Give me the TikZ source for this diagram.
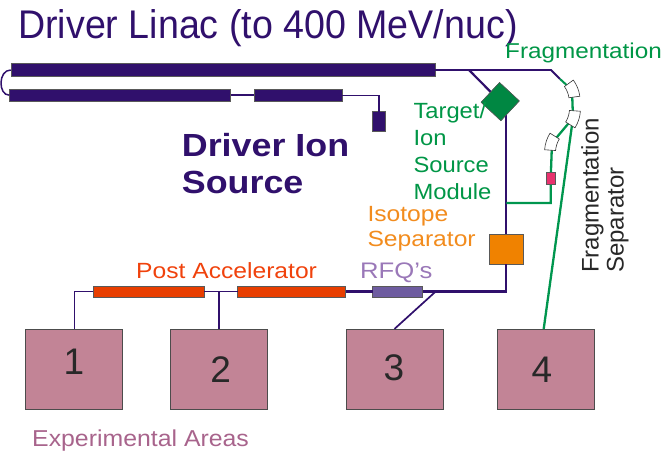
\documentclass[tikz,border=0pt]{standalone}
\usepackage{fontspec}
\setmainfont{Liberation Sans}
\usepackage{graphicx}
\usetikzlibrary{calc}

\definecolor{linacpurple}{RGB}{48,16,108}
\definecolor{fraggreen}{RGB}{0,150,78}
\definecolor{targetgreen}{RGB}{0,135,66}
\definecolor{textgreen}{RGB}{0,150,70}
\definecolor{isoorange}{RGB}{240,130,0}
\definecolor{isotext}{RGB}{242,140,30}
\definecolor{postred}{RGB}{232,62,0}
\definecolor{posttext}{RGB}{240,66,12}
\definecolor{rfqbar}{RGB}{110,92,160}
\definecolor{rfqtext}{RGB}{154,120,184}
\definecolor{areapink}{RGB}{194,132,150}
\definecolor{areatext}{RGB}{168,100,140}
\definecolor{fragmagenta}{RGB}{232,50,110}
\definecolor{digitgray}{RGB}{40,40,40}

\newcommand{\fsz}[1]{\fontsize{#1pt}{#1pt}\selectfont}

\begin{document}
\begin{tikzpicture}[x=1pt,y=-1pt,
  bar/.style={rectangle, draw=black!65, line width=0.5pt, inner sep=0pt, outer sep=0pt},
  beam/.style={draw=linacpurple, line width=2.2pt},
  thinbeam/.style={draw=linacpurple, line width=1.1pt},
  gbeam/.style={draw=fraggreen, line width=2.3pt},
  area/.style={rectangle, draw=black!70, fill=areapink, line width=0.8pt,
    minimum width=97pt, minimum height=80pt, inner sep=0pt, outer sep=0pt},
  lbl/.style={inner sep=0pt, anchor=base west},
  digit/.style={inner sep=0pt, text=digitgray, font=\fsz{37}},
  dipole/.pic={
    \draw[fill=white, draw=black!80, line width=0.6pt]
      (-30,0) ++(-14:25) -- ++(-14:11)
      arc[start angle=-14, end angle=14, radius=36]
      -- ++(194:11)
      arc[start angle=14, end angle=-14, radius=25] -- cycle;
  }]
\useasboundingbox (0,0) rectangle (672,452);

% ---------------- driver linac ----------------
\node[bar, fill=linacpurple, minimum width=424.3pt, minimum height=13.4pt] (linac1) at (222.9,70) {};
\node[bar, fill=linacpurple, minimum width=221.4pt, minimum height=12.3pt] (linac2) at (120,95.2) {};
\node[bar, fill=linacpurple, minimum width=88pt, minimum height=12.3pt] (linac3) at (298,95.2) {};
\node[bar, fill=linacpurple, minimum width=12.7pt, minimum height=19.3pt] (ionsrc) at (378.7,121.3) {};

% ---------------- target, isotope separator ----------------
\node[bar, fill=targetgreen, minimum size=27pt, rotate=47] (target) at (500.2,101.6) {};
\node[bar, fill=isoorange, minimum width=34.7pt, minimum height=30pt] (isosep) at (506.3,249.3) {};

% ---------------- post accelerator ----------------
\node[bar, fill=postred, minimum width=111pt, minimum height=11.5pt] (post1) at (148.5,291.5) {};
\node[bar, fill=postred, minimum width=108.2pt, minimum height=11.5pt] (post2) at (291.6,291.5) {};
\node[bar, fill=rfqbar, minimum width=50pt, minimum height=11.5pt] (rfq) at (397.5,291.5) {};

% ---------------- experimental areas ----------------
\node[area] (area1) at (74.2,368.9) {};
\node[area] (area2) at (219.3,368.9) {};
\node[area] (area3) at (394.5,368.9) {};
\node[area] (area4) at (545.7,368.9) {};

% ---------------- fragmentation line points ----------------
\coordinate (tap) at (469,70);
\coordinate (fsbend) at (551,70);
\coordinate (fsin) at (560,79);
\coordinate (d1) at (572,90);
\coordinate (d2) at (573,118);
\coordinate (d3) at (552,143);
\coordinate (fsjoin) at (506.3,203);
\coordinate (a3tap) at (435.7,291.5);

% ---------------- beam lines ----------------
\draw[linacpurple, line width=1.5pt] (linac1.west) .. controls (-2,70) and (-2,95.2) .. (linac2.west);
\draw[beam, line width=1.6pt] (linac2.east) -- (linac3.west);
\draw[thinbeam] (linac3.east) -- (ionsrc.north |- linac3.east);
\draw[beam] (ionsrc.north |- linac3.east) -- (ionsrc.north);
\draw[beam, line width=1.8pt] (linac1.east) -- (fsbend) -- (fsin);
\draw[beam] (tap) -- (target);
\draw[beam] (isosep.north |- target.center) -- (isosep.north);
\draw[beam] (isosep.south) |- (rfq.east);
\draw[beam] (rfq.west) -- (post2.east);
\draw[thinbeam, line width=0.9pt] (post2.west) -- (post1.east);
\draw[beam] (area2.north |- post1.east) -- (area2.north);
\draw[thinbeam] (post1.west) -| (area1.north);
\draw[beam, line width=1.7pt] (a3tap) -- (area3.north);

% fragmentation separator beam
\draw[gbeam, line width=2pt] (fsin) -- (d1);
\draw[gbeam] (d1) -- (d2);
\draw[gbeam] (d2) -- (d3);
\draw[gbeam] (d2) -- ([xshift=-2pt]area4.north);
\draw[gbeam] (d3) -- (550.7,178.3) |- (fsjoin);
\node[bar, fill=fragmagenta, minimum width=9.3pt, minimum height=11.3pt] (fragbox) at (550.7,178.3) {};

% redraw the target on top of the feeds
\node[bar, fill=targetgreen, minimum size=27pt, rotate=47] at (target.center) {};

% dipoles
\pic[rotate=22] at (d1) {dipole};
\pic[rotate=-18] at (d2) {dipole};
\pic[rotate=-18, xscale=-1] at (d3) {dipole};

% ---------------- labels ----------------
\node[lbl, text=linacpurple, font=\fsz{40}] (title) at (18,39) {\scalebox{0.94}[1]{Driver Linac (to 400 MeV/nuc)}};
\node[lbl, text=textgreen, font=\fsz{21.5}] (fraglbl) at (505,58.3) {\scalebox{1.13}[1]{Fragmentation}};

\node[lbl, text=linacpurple, font=\fsz{32}\bfseries] (dis1) at (181.7,156) {\scalebox{1.12}[1]{Driver Ion}};
\node[lbl, text=linacpurple, font=\fsz{32}\bfseries] (dis2) at (181.7,193) {\scalebox{1.12}[1]{Source}};

\node[lbl, text=textgreen, font=\fsz{22}] (tism1) at (413.3,118.3) {\scalebox{1.08}[1]{Target/}};
\node[lbl, text=textgreen, font=\fsz{22}] (tism2) at (413.3,145) {\scalebox{1.08}[1]{Ion}};
\node[lbl, text=textgreen, font=\fsz{22}] (tism3) at (413.3,172.7) {\scalebox{1.08}[1]{Source}};
\node[lbl, text=textgreen, font=\fsz{22}] (tism4) at (413.3,199) {\scalebox{1.08}[1]{Module}};

\node[lbl, text=isotext, font=\fsz{22}] (iso1) at (367.3,221.7) {\scalebox{1.12}[1]{Isotope}};
\node[lbl, text=isotext, font=\fsz{22}] (iso2) at (367.3,246.7) {\scalebox{1.12}[1]{Separator}};

\node[lbl, text=posttext, font=\fsz{22}] (postlbl) at (136,278) {\scalebox{1.12}[1]{Post Accelerator}};
\node[lbl, text=rfqtext, font=\fsz{22.5}] (rfqlbl) at (360,278) {\scalebox{1.14}[1]{RFQ’s}};

\node[lbl, text=digitgray, font=\fsz{24}, rotate=90] (fs1) at (598.5,273) {Fragmentation};
\node[lbl, text=digitgray, font=\fsz{24}, rotate=90] (fs2) at (623.5,273) {Separator};

\node[digit] at (74,362) {1};
\node[digit] at (220.7,370) {2};
\node[digit] at (394,368) {3};
\node[digit] at (542,370) {4};

\node[lbl, text=areatext, font=\fsz{23}] (arealbl) at (32,446.7) {\scalebox{1.08}[1]{Experimental Areas}};
\end{tikzpicture}
\end{document}
